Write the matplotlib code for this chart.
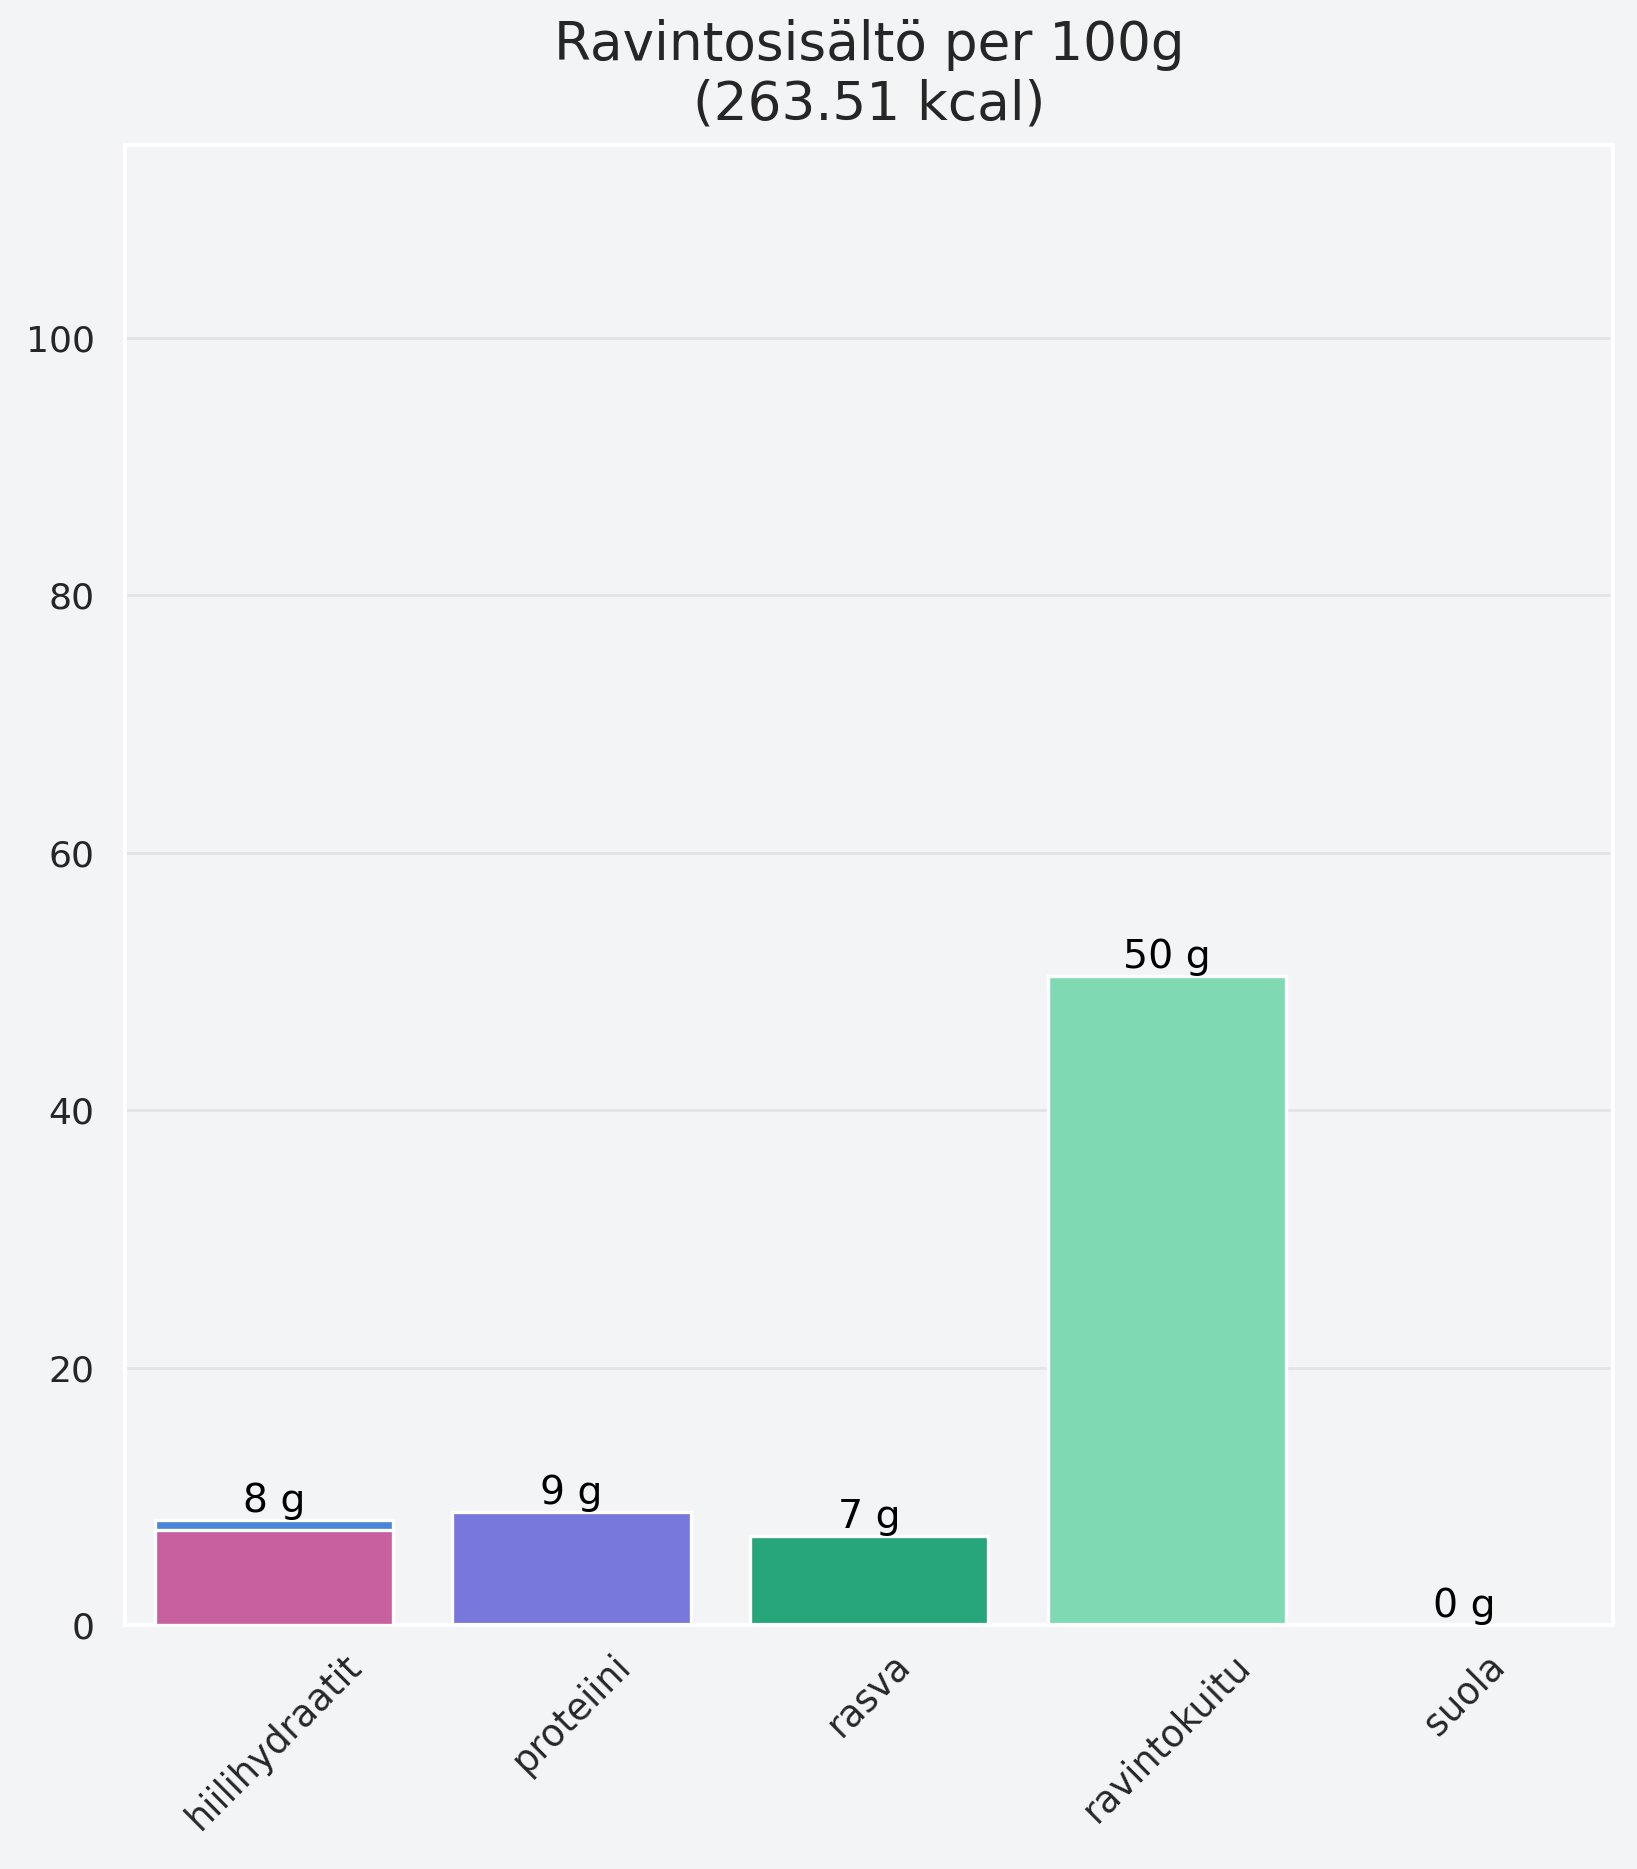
import numpy as np
import matplotlib
matplotlib.use("Agg")
import matplotlib.pyplot as plt


# Nutrition per 100 g
categories = ["hiilihydraatit", "proteiini", "rasva", "ravintokuitu", "suola"]
values = [8.2, 8.8, 6.9, 50.4, 0.0]
sugar_value = 7.4  # drawn on top of the carbohydrate bar
bar_labels = ["8 g", "9 g", "7 g", "50 g", "0 g"]
bar_colors = ["#4a86d8", "#7878dc", "#26a67a", "#7fdab4", "#e0a040"]
sugar_color = "#c9609e"

TITLE = "Ravintosisältö per 100g\n(263.51 kcal)"
BG = "#f3f4f6"


def main():
    fig = plt.figure(figsize=(8.185, 9.345), dpi=200, facecolor=BG)
    ax = fig.add_axes([0.0764, 0.1305, 0.9090, 0.7920])
    ax.set_facecolor(BG)

    x = np.arange(len(categories))
    ax.bar(x, values, width=0.8, color=bar_colors, edgecolor="white", linewidth=1.2, zorder=2)
    ax.bar(x[0], sugar_value, width=0.8, color=sugar_color, edgecolor="white", linewidth=1.2, zorder=3)

    for xi, v, lab in zip(x, values, bar_labels):
        ax.text(xi, v, lab, ha="center", va="bottom", fontsize=14.2, color="black", zorder=4)

    ax.set_xlim(-0.5, len(categories) - 0.5)
    ax.set_ylim(0, 115)
    ax.set_yticks([0, 20, 40, 60, 80, 100])
    ax.set_xticks(x)
    ax.set_xticklabels(categories, rotation=45, ha="center")

    ax.tick_params(axis="both", length=0, colors="#262626")
    ax.tick_params(axis="y", labelsize=13, pad=11)
    ax.tick_params(axis="x", labelsize=13.2, pad=8)
    ax.yaxis.grid(True, color="#e2e4e8", linewidth=1.0, zorder=0)
    ax.xaxis.grid(False)
    ax.set_axisbelow(True)
    for sp in ax.spines.values():
        sp.set_color("white")
        sp.set_linewidth(1.5)

    ax.set_title(TITLE, fontsize=19.2, color="#262626", pad=9)

    fig.savefig("out.png", dpi=200, facecolor=BG)


if __name__ == "__main__":
    main()
